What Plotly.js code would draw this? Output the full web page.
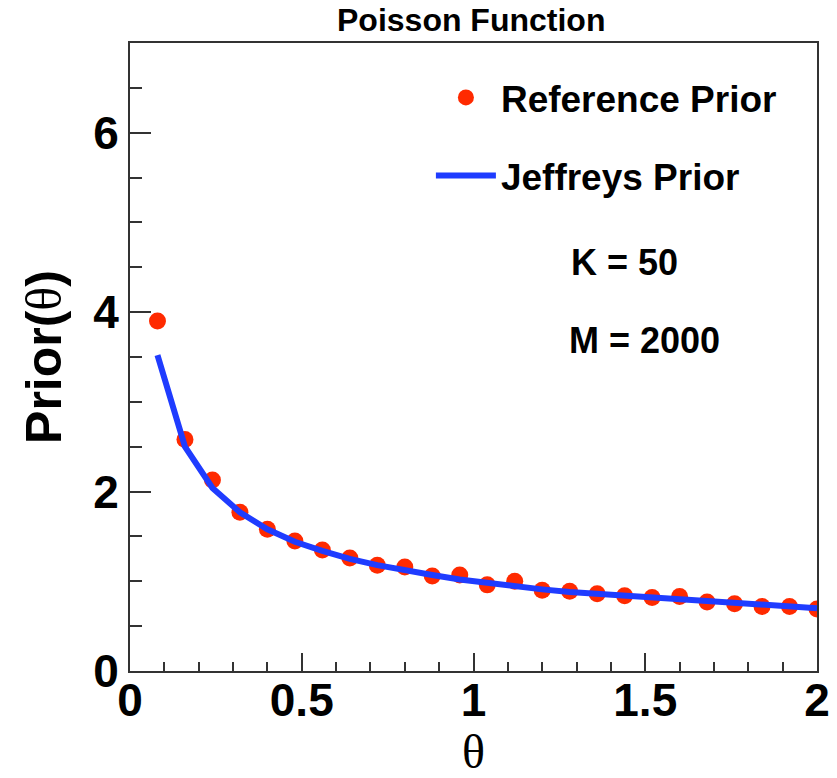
<!DOCTYPE html>
<html>
<head>
<meta charset="utf-8">
<script src="https://cdn.plot.ly/plotly-3.0.1.min.js"></script>
<style>
html,body{margin:0;padding:0;background:#fff;}
#chart{width:837px;height:778px;}
</style>
</head>
<body>
<div id="chart"></div>
<script>
// theta values (shared by both series)
const theta = [0.08,0.16,0.24,0.32,0.40,0.48,0.56,0.64,0.72,0.80,0.88,0.96,1.04,1.12,1.20,1.28,1.36,1.44,1.52,1.60,1.68,1.76,1.84,1.92,2.00];
// Reference prior (red points)
const referencePrior = [3.90,2.58,2.13,1.77,1.58,1.45,1.35,1.26,1.18,1.16,1.06,1.07,0.96,1.00,0.90,0.89,0.86,0.84,0.82,0.83,0.77,0.75,0.72,0.72,0.69];
// Jeffreys prior (blue line)
const jeffreysPrior = [3.52,2.50,2.04,1.77,1.58,1.44,1.34,1.25,1.18,1.12,1.07,1.02,0.98,0.94,0.91,0.88,0.86,0.83,0.81,0.79,0.77,0.75,0.74,0.72,0.70];
const xTickVals = [0,0.5,1,1.5,2];
const xTickText = ['0','0.5','1','1.5','2'];
const yTickVals = [0,2,4,6];
const yTickText = ['0','2','4','6'];

const FONT = 'Liberation Sans, Arial, Helvetica, sans-serif';
const SERIF = 'Liberation Serif, Times New Roman, serif';

const traces = [
  {
    x: theta, y: referencePrior, type: 'scatter', mode: 'markers',
    name: 'Reference Prior',
    marker: {color: '#ff2a00', size: 17, symbol: 'circle', line: {width: 0}},
    legendgroup: 'a'
  },
  {
    x: theta, y: jeffreysPrior, type: 'scatter', mode: 'lines',
    name: 'Jeffreys Prior',
    line: {color: '#1f3cff', width: 6},
    legendgroup: 'b'
  }
];

const layout = {
  width: 837, height: 778,
  margin: {l: 130, r: 20, t: 43, b: 107},
  paper_bgcolor: '#fff', plot_bgcolor: '#fff',
  showlegend: true,
  title: {
    text: 'Poisson Function',
    font: {family: FONT, size: 32, color: '#000', weight: 'bold'},
    x: 0.563, xanchor: 'center', y: 0.975, yanchor: 'middle'
  },
  xaxis: {
    range: [0, 2], autorange: false,
    showgrid: false, zeroline: false,
    showline: true, linecolor: '#333', linewidth: 2, mirror: true,
    ticks: 'inside', ticklen: 18, tickwidth: 2, tickcolor: '#333',
    tickvals: xTickVals, ticktext: xTickText,
    tickfont: {family: FONT, size: 46, color: '#000', weight: 'bold'},
    ticklabelstandoff: -12,
    minor: {dtick: 0.1, ticks: 'inside', ticklen: 9, tickwidth: 2, tickcolor: '#333', showgrid: false},
    title: {text: 'θ', font: {family: SERIF, size: 48, color: '#000'}, standoff: 10}
  },
  yaxis: {
    range: [0, 7], autorange: false,
    showgrid: false, zeroline: false,
    showline: true, linecolor: '#333', linewidth: 2, mirror: true,
    ticks: 'inside', ticklen: 21, tickwidth: 2, tickcolor: '#333',
    tickvals: yTickVals, ticktext: yTickText,
    tickfont: {family: FONT, size: 46, color: '#000', weight: 'bold'},
    minor: {dtick: 0.5, ticks: 'inside', ticklen: 12, tickwidth: 2, tickcolor: '#333', showgrid: false},
    title: {text: '<b>Prior(</b><span style="font-family:Liberation Serif">θ</span><b>)</b>', font: {family: FONT, size: 50, color: '#000'}, standoff: 16}
  },
  legend: {
    x: 0.438, xanchor: 'left', y: 0.962, yanchor: 'top',
    bgcolor: 'rgba(0,0,0,0)', borderwidth: 0,
    font: {family: FONT, size: 37, color: '#000', weight: 'bold'},
    itemwidth: 60,
    traceorder: 'grouped', tracegroupgap: 27
  },
  annotations: [
    {text: 'K = 50', xref: 'paper', yref: 'paper', x: 0.639, y: 0.65, xanchor: 'left', yanchor: 'middle', showarrow: false,
     font: {family: FONT, size: 36, color: '#000', weight: 'bold'}},
    {text: 'M = 2000', xref: 'paper', yref: 'paper', x: 0.636, y: 0.527, xanchor: 'left', yanchor: 'middle', showarrow: false,
     font: {family: FONT, size: 36, color: '#000', weight: 'bold'}}
  ]
};

Plotly.newPlot('chart', traces, layout, {displayModeBar: false, staticPlot: true});
</script>
</body>
</html>
